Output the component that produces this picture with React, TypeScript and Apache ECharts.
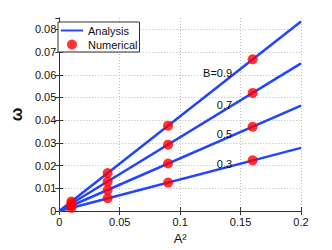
import React, { useEffect, useRef } from "react";
import * as echarts from "echarts";

const bValues = ["0.9", "0.7", "0.5", "0.3"];
const bLabels = ["B=0.9", "0.7", "0.5", "0.3"];
const lineX = [0, 0.2];
const lineEnd = [0.0835, 0.065, 0.0464, 0.0278];
const a2 = [0.01, 0.04, 0.09, 0.16];
const numerical = [
  [0.0042, 0.0167, 0.0376, 0.0668],
  [0.0032, 0.013, 0.0292, 0.052],
  [0.0023, 0.0093, 0.0209, 0.0371],
  [0.0014, 0.0056, 0.0125, 0.0223],
];
const labelAnchorX = 0.143;
const labelAnchorY = [0.0607, 0.0468, 0.0338, 0.0205];

export default function App() {
  const ref = useRef<HTMLDivElement>(null);
  useEffect(() => {
    const chart = echarts.init(ref.current!, null, { renderer: "svg" });
    const font = "Liberation Sans, Arial, sans-serif";
    const blue = "#2244ff";
    const lineSeries = bValues.map((b, i) => ({
      type: "line",
      name: "Analysis",
      symbol: "none",
      data: lineX.map((x, j) => [x, j === 0 ? 0 : lineEnd[i]]),
      lineStyle: { color: blue, width: 2.5 },
      itemStyle: { color: blue },
      z: 2,
      markPoint: {
        symbol: "circle",
        symbolSize: 0,
        data: [{ coord: [labelAnchorX, labelAnchorY[i]], value: bLabels[i] }],
        label: {
          show: true,
          formatter: bLabels[i],
          position: "left",
          distance: 0,
          color: "#111",
          fontSize: 11,
          fontFamily: font,
        },
      },
    }));
    const pts: number[][] = [];
    numerical.forEach((row) => row.forEach((v, j) => pts.push([a2[j], v])));
    const axisCommon = {
      type: "value",
      axisLine: { show: true, lineStyle: { color: "#333", width: 1 } },
      axisTick: { show: true, inside: true, length: 4, lineStyle: { color: "#333" } },
      axisLabel: { color: "#111", fontSize: 11, fontFamily: font },
    };
    chart.setOption({
      animation: false,
      grid: { left: 54, right: 31, top: 18, bottom: 34 },
      legend: {
        left: 58,
        top: 22,
        orient: "vertical",
        itemGap: 3,
        itemWidth: 22,
        itemHeight: 10,
        padding: [3, 2, 2, 3],
        borderColor: "#333",
        borderWidth: 1,
        backgroundColor: "#fff",
        textStyle: { color: "#111", fontSize: 11, fontFamily: font },
        data: [
          { name: "Analysis", icon: "path://M0,0H30V2.6H0Z", itemStyle: { color: blue } },
          { name: "Numerical", icon: "circle" },
        ],
      },
      xAxis: [
        {
          ...axisCommon,
          min: 0,
          max: 0.2,
          interval: 0.05,
          name: "A²",
          nameLocation: "middle",
          nameGap: 21,
          nameTextStyle: { color: "#111", fontSize: 13, fontFamily: font },
          axisLabel: {
            ...axisCommon.axisLabel,
            margin: 5,
            formatter: (v: number) => String(+v.toFixed(2)),
          },
          splitLine: { show: true, lineStyle: { color: "#bbb", type: [1, 2] } },
        },
        {
          ...axisCommon,
          position: "top",
          min: 0,
          max: 0.2,
          interval: 0.05,
          axisLabel: { show: false },
          splitLine: { show: false },
        },
      ],
      yAxis: [
        {
          ...axisCommon,
          min: 0,
          max: 0.085,
          interval: 0.01,
          name: "ω",
          nameLocation: "middle",
          nameGap: 33,
          nameTextStyle: { color: "#111", fontSize: 16, fontFamily: font, fontWeight: "bold" },
          axisLabel: {
            ...axisCommon.axisLabel,
            margin: 3,
            showMaxLabel: false,
            formatter: (v: number) => String(+v.toFixed(2)),
          },
          splitLine: { show: true, showMaxLine: false, lineStyle: { color: "#bbb", type: [1, 2] } },
        },
        {
          ...axisCommon,
          position: "right",
          min: 0,
          max: 0.085,
          interval: 0.01,
          axisLabel: { show: false },
          splitLine: { show: false },
        },
      ],
      series: [
        ...lineSeries,
        {
          type: "scatter",
          name: "Numerical",
          data: pts,
          symbol: "circle",
          symbolSize: 10,
          itemStyle: { color: "#ff0000" },
          z: 3,
        },
      ],
    });
    return () => chart.dispose();
  }, []);
  return (
    <div
      ref={ref}
      style={{ position: "fixed", left: 0, top: 0, width: 332, height: 250, background: "#fff" }}
    />
  );
}
